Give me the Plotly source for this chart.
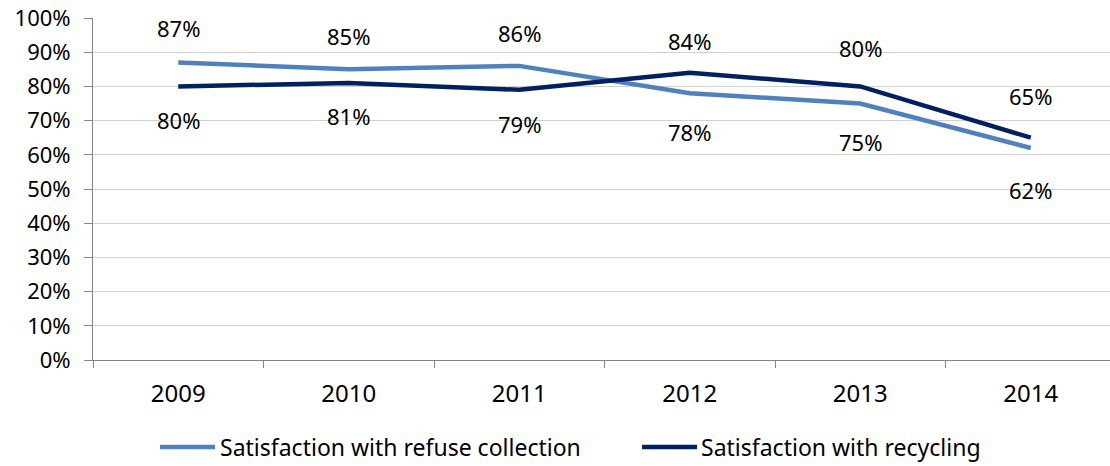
import plotly.graph_objects as go

years = ["2009", "2010", "2011", "2012", "2013", "2014"]
refuse = [87, 85, 86, 78, 75, 62]
recycling = [80, 81, 79, 84, 80, 65]
series_names = ["Satisfaction with refuse collection", "Satisfaction with recycling"]

# vertical offset (px) of each value label from its point: positive above, negative below
refuse_label_shift = [34, 33, 33, -39, -38, -42]
recycling_label_shift = [-34, -33, -34, 32, 38, 42]

LIGHT = "#4f81bd"
DARK = "#002060"
FONT = "Noto Sans"

W, H = 1110, 466
ML, MR, MT, MB = 93, 0, 18, 106
PW = W - ML - MR
PH = H - MT - MB

fig = go.Figure()
for name, vals, col in [(series_names[0], refuse, LIGHT), (series_names[1], recycling, DARK)]:
    fig.add_trace(go.Scatter(
        x=years, y=vals, mode="lines", name=name,
        line=dict(color=col, width=4.5), showlegend=False, hoverinfo="skip",
    ))

annotations = []
for vals, shifts in [(refuse, refuse_label_shift), (recycling, recycling_label_shift)]:
    for i, (v, s) in enumerate(zip(vals, shifts)):
        # category axes accept the category index as the annotation position
        annotations.append(dict(
            x=i, y=v, xref="x", yref="y", text=f"{v}%", showarrow=False,
            yshift=s,
            font=dict(family=FONT, size=22, color="#000000"),
        ))


def px_x(p):
    return (p - ML) / PW


def px_y(p):
    return (H - MB - p) / PH


# legend drawn as line swatches plus text
shapes = []
legend_items = [(160, 215, 218, LIGHT, series_names[0]), (642, 697, 699, DARK, series_names[1])]
ly = 447
for x0, x1, tx, col, name in legend_items:
    shapes.append(dict(type="line", xref="paper", yref="paper",
                       x0=px_x(x0), x1=px_x(x1), y0=px_y(ly), y1=px_y(ly),
                       line=dict(color=col, width=4.5)))
    annotations.append(dict(x=px_x(tx), y=px_y(ly), xref="paper", yref="paper",
                            text=name, showarrow=False, xanchor="left", yanchor="middle",
                            font=dict(family=FONT, size=23, color="#000000")))

# right edge of the plot area falls a little short of the last category boundary
right = 5.5 - (ML + 6 * 170.5 - W) / 170.5

fig.update_layout(
    width=W, height=H,
    margin=dict(l=ML, r=MR, t=MT, b=MB, pad=0),
    paper_bgcolor="white", plot_bgcolor="white",
    showlegend=False,
    annotations=annotations, shapes=shapes,
    xaxis=dict(
        type="category", range=[-0.5, right], tickson="boundaries",
        ticks="outside", ticklen=7, tickcolor="#868686", tickwidth=1,
        showline=True, linecolor="#868686", linewidth=1,
        showgrid=False, zeroline=False,
        tickfont=dict(family=FONT, size=24, color="#000000"),
        ticklabelstandoff=12,
    ),
    yaxis=dict(
        range=[0, 100], dtick=10, tick0=0, ticksuffix="%",
        ticks="outside", ticklen=8, tickcolor="#868686", tickwidth=1,
        showline=True, linecolor="#868686", linewidth=1,
        showgrid=True, gridcolor="#d0d0d0", gridwidth=1,
        zeroline=False,
        tickfont=dict(family=FONT, size=22, color="#000000"),
        ticklabelstandoff=9,
    ),
)

fig.write_html("out.html")
